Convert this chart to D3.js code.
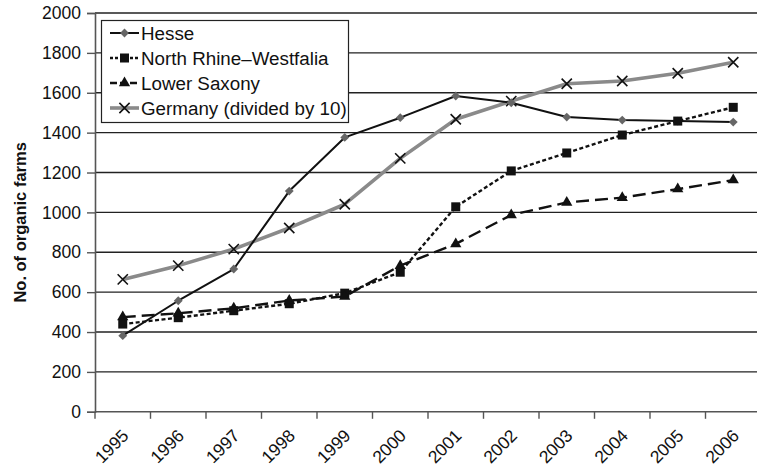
<!DOCTYPE html>
<html>
<head>
<meta charset="utf-8">
<script src="https://cdn.jsdelivr.net/npm/d3@7/dist/d3.min.js"></script>
<style>
  html, body { margin: 0; padding: 0; background: #fff; }
  svg { display: block; }
  text { font-family: "Liberation Sans", Arial, Helvetica, sans-serif; fill: #111; }
</style>
</head>
<body>
<svg id="chart" width="757" height="472"></svg>
<script>
// Organic farms per federal state, 1995–2006
const years = ["1995","1996","1997","1998","1999","2000","2001","2002","2003","2004","2005","2006"];
const hesse = [382, 557, 716, 1107, 1376, 1475, 1584, 1550, 1478, 1463, 1458, 1453];
const northRhineWestfalia = [440, 472, 507, 542, 595, 700, 1028, 1208, 1298, 1388, 1458, 1527];
const lowerSaxony = [475, 494, 519, 558, 578, 733, 842, 987, 1050, 1074, 1117, 1162];
const germanyDiv10 = [664, 733, 816, 922, 1041, 1271, 1467, 1558, 1645, 1659, 1698, 1753];
const yTicks = [0, 200, 400, 600, 800, 1000, 1200, 1400, 1600, 1800, 2000];
const seriesNames = ["Hesse", "North Rhine\u2013Westfalia", "Lower Saxony", "Germany (divided by 10)"];

const svg = d3.select("#chart");
const plotLeft = 95, plotRight = 761, plotTop = 13, plotBottom = 411.8;

const x = d3.scaleBand().domain(years).range([plotLeft, plotRight]).padding(0);
const y = d3.scaleLinear().domain([0, 2000]).range([plotBottom, plotTop]);
const cx = d => x(d) + x.bandwidth() / 2;

// horizontal gridlines
svg.append("g")
  .selectAll("line")
  .data(yTicks.filter(t => t > 0))
  .join("line")
  .attr("x1", plotLeft).attr("x2", 757)
  .attr("y1", d => y(d)).attr("y2", d => y(d))
  .attr("stroke", "#222").attr("stroke-width", 1.4);

// y axis
const yAxis = svg.append("g")
  .attr("transform", `translate(${plotLeft},0)`)
  .call(d3.axisLeft(y).tickValues(yTicks).tickSize(8).tickPadding(6).tickFormat(d3.format("d")));
yAxis.select(".domain").attr("stroke", "#555").attr("stroke-width", 1.6);
yAxis.selectAll(".tick line").attr("stroke", "#555").attr("stroke-width", 1.4);
yAxis.selectAll(".tick text")
  .style("font-size", "17.5px")
  .style("font-family", "Liberation Sans, Arial, sans-serif")
  .attr("fill", "#111");

// x axis with ticks between categories
const xAxis = svg.append("g")
  .attr("transform", `translate(0,${plotBottom})`);
xAxis.append("line")
  .attr("x1", plotLeft).attr("x2", 757).attr("y1", 0).attr("y2", 0)
  .attr("stroke", "#555").attr("stroke-width", 1.6);
xAxis.selectAll("line.tk")
  .data(years)
  .join("line")
  .attr("class", "tk")
  .attr("x1", d => x(d)).attr("x2", d => x(d))
  .attr("y1", 0).attr("y2", 7)
  .attr("stroke", "#555").attr("stroke-width", 1.4);
xAxis.selectAll("text")
  .data(years)
  .join("text")
  .attr("text-anchor", "end")
  .attr("transform", d => `translate(${cx(d) + 7},${25}) rotate(-45)`)
  .style("font-size", "17.5px")
  .text(d => d);

// y axis title
svg.append("text")
  .attr("transform", `translate(26,${(plotTop + plotBottom) / 2 + 10}) rotate(-90)`)
  .attr("text-anchor", "middle")
  .style("font-size", "16.5px")
  .style("font-weight", "bold")
  .text("No. of organic farms");

// series definitions
const series = [
  { name: seriesNames[3], values: germanyDiv10, stroke: "#8a8a8a", width: 3.6, dash: null, marker: "x" },
  { name: seriesNames[0], values: hesse, stroke: "#111", width: 2, dash: null, marker: "diamond" },
  { name: seriesNames[1], values: northRhineWestfalia, stroke: "#111", width: 2.4, dash: "4,2.5", marker: "square" },
  { name: seriesNames[2], values: lowerSaxony, stroke: "#111", width: 2.4, dash: "13,6", marker: "triangle" }
];

const line = d3.line().x((d, i) => cx(years[i])).y(d => y(d));

function drawMarker(g, type, px, py) {
  if (type === "diamond") {
    g.append("path")
      .attr("d", d3.symbol(d3.symbolDiamond2, 50)())
      .attr("transform", `translate(${px},${py})`)
      .attr("fill", "#666");
  } else if (type === "square") {
    g.append("rect")
      .attr("x", px - 4.5).attr("y", py - 4.5)
      .attr("width", 9).attr("height", 9)
      .attr("fill", "#111");
  } else if (type === "triangle") {
    g.append("path")
      .attr("d", d3.symbol(d3.symbolTriangle, 55)())
      .attr("transform", `translate(${px},${py})`)
      .attr("fill", "#111");
  } else if (type === "x") {
    g.append("path")
      .attr("d", d3.symbol(d3.symbolTimes, 70)())
      .attr("transform", `translate(${px},${py})`)
      .attr("fill", "none").attr("stroke", "#111").attr("stroke-width", 1.6);
  }
}

series.forEach(s => {
  const g = svg.append("g");
  g.append("path")
    .datum(s.values)
    .attr("d", line)
    .attr("fill", "none")
    .attr("stroke", s.stroke)
    .attr("stroke-width", s.width)
    .attr("stroke-dasharray", s.dash)
    .attr("stroke-linejoin", "round");
  s.values.forEach((v, i) => drawMarker(g, s.marker, cx(years[i]), y(v)));
});

// legend
const legend = svg.append("g");
legend.append("rect")
  .attr("x", 101.5).attr("y", 20.5)
  .attr("width", 247).attr("height", 102)
  .attr("fill", "#fff").attr("stroke", "#222").attr("stroke-width", 1.2);

const legendOrder = [series[1], series[2], series[3], series[0]];
legendOrder.forEach((s, i) => {
  const ly = 33 + i * 25;
  const row = legend.append("g");
  row.append("line")
    .attr("x1", 110).attr("x2", 139)
    .attr("y1", ly).attr("y2", ly)
    .attr("stroke", s.stroke)
    .attr("stroke-width", s.width)
    .attr("stroke-dasharray", s.dash ? (s.marker === "triangle" ? "7,3" : "3,2") : null);
  drawMarker(row, s.marker, 124.5, ly);
  row.append("text")
    .attr("x", 141).attr("y", ly + 6.5)
    .style("font-size", "18.8px")
    .text(s.name);
});
</script>
</body>
</html>
